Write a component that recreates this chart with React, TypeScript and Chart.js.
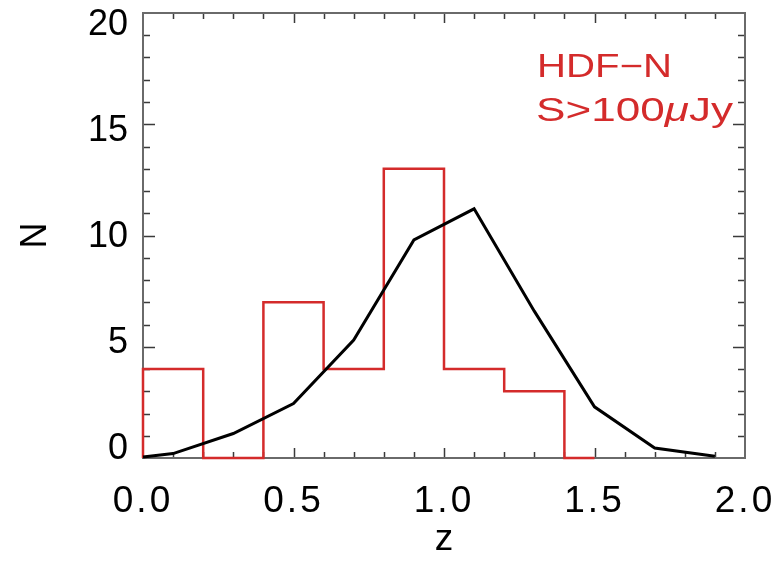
import React, { useEffect, useRef } from "react";
import { Chart, registerables } from "chart.js";

Chart.register(...registerables);

// Histogram (HDF-N, S>100 uJy): bin edges and counts (step line)
const histEdges = [0, 0, 0.2, 0.4, 0.6, 0.8, 1.0, 1.2, 1.4, 1.5];
const histCounts = [0, 4, 0, 7, 4, 13, 4, 3, 0, 0];

// Model curve
const modelZ = [0, 0.1, 0.3, 0.5, 0.7, 0.9, 1.1, 1.3, 1.5, 1.7, 1.9];
const modelN = [0.05, 0.2, 1.1, 2.45, 5.3, 9.8, 11.2, 6.6, 2.3, 0.45, 0.08];

// Axis ticks / labels
const xTickValues = [0, 0.5, 1.0, 1.5, 2.0];
const yTickValues = [0, 5, 10, 15, 20];
const xMinorStep = 0.1;
const yMinorStep = 1;
const xTitle = "z";
const yTitle = "N";
const legendLine1 = "HDF\u2212N";
const legendLine2 = ["S>100", "\u03bc", "Jy"];

const FONT = '"Liberation Sans", Arial, sans-serif';
const RED = "#d42b2b";

const zeroPad = (s: any) => {
  s.paddingTop = 0;
  s.paddingBottom = 0;
  s.paddingLeft = 0;
  s.paddingRight = 0;
};

const idlPlugin = {
  id: "idlFrame",
  afterLayout(chart: any) {
    const xs = chart.scales.x;
    if (xs && !xs.__spaced) {
      const orig = xs.drawLabels;
      xs.drawLabels = function (area: any) {
        const c = this.ctx;
        c.save();
        c.letterSpacing = "3px";
        orig.call(this, area);
        c.restore();
      };
      xs.__spaced = true;
    }
  },
  beforeDatasetsDraw(chart: any) {
    const { ctx, chartArea: a, scales } = chart;
    const xs = scales.x;
    const ys = scales.y;
    ctx.save();
    ctx.strokeStyle = "#3a3a3a";
    ctx.lineWidth = 1.5;
    ctx.beginPath();
    const nx = Math.round((xs.max - xs.min) / xMinorStep);
    for (let i = 1; i < nx; i++) {
      const v = xs.min + i * xMinorStep;
      const px = Math.round(xs.getPixelForValue(v)) + 0.5;
      const len = i % 5 === 0 ? 10 : 6;
      ctx.moveTo(px, a.bottom);
      ctx.lineTo(px, a.bottom - len);
      ctx.moveTo(px, a.top);
      ctx.lineTo(px, a.top + len);
    }
    const ny = Math.round((ys.max - ys.min) / yMinorStep);
    for (let i = 1; i < ny; i++) {
      const v = ys.min + i * yMinorStep;
      const py = Math.round(ys.getPixelForValue(v)) + 0.5;
      const len = i % 5 === 0 ? 12 : 7;
      ctx.moveTo(a.left, py);
      ctx.lineTo(a.left + len, py);
      ctx.moveTo(a.right, py);
      ctx.lineTo(a.right - len, py);
    }
    ctx.stroke();
    ctx.strokeStyle = "#6a6a6a";
    ctx.lineWidth = 2;
    ctx.strokeRect(a.left, a.top, a.right - a.left, a.bottom - a.top);
    ctx.restore();
  },
  afterDraw(chart: any) {
    const { ctx } = chart;
    ctx.save();
    ctx.fillStyle = RED;
    ctx.textBaseline = "alphabetic";
    const f = "33px " + FONT;
    ctx.font = f;
    const w1 = ctx.measureText(legendLine1).width;
    ctx.save();
    ctx.translate(537, 77);
    ctx.scale(135 / w1, 1);
    ctx.fillText(legendLine1, 0, 0);
    ctx.restore();
    const fonts = [f, "italic 33px " + FONT, f];
    let total = 0;
    const widths = legendLine2.map((s, i) => {
      ctx.font = fonts[i];
      const w = ctx.measureText(s).width;
      total += w;
      return w;
    });
    ctx.save();
    ctx.translate(536, 121);
    ctx.scale(197 / total, 1);
    let xx = 0;
    legendLine2.forEach((s, i) => {
      ctx.font = fonts[i];
      ctx.fillText(s, xx, 0);
      xx += widths[i];
    });
    ctx.restore();
    ctx.restore();
  },
};

export default function App() {
  const ref = useRef<HTMLCanvasElement>(null);
  useEffect(() => {
    const canvas = ref.current!;
    const chart = new Chart(canvas, {
      type: "line",
      data: {
        datasets: [
          {
            label: "model",
            data: modelZ.map((z, i) => ({ x: z, y: modelN[i] })),
            borderColor: "#000000",
            borderWidth: 3,
            pointRadius: 0,
            tension: 0,
            order: 0,
            clip: false as any,
            xAxisID: "x",
            yAxisID: "y",
          },
          {
            label: "HDF-N",
            data: histEdges.map((z, i) => ({ x: z, y: histCounts[i] })),
            borderColor: RED,
            borderWidth: 2.5,
            pointRadius: 0,
            stepped: true,
            order: 1,
            clip: false as any,
            xAxisID: "x",
            yAxisID: "y",
          },
        ],
      },
      options: {
        responsive: false,
        animation: false,
        devicePixelRatio: 1,
        layout: { padding: { top: 13, right: 38, left: 0, bottom: 0 } },
        plugins: { legend: { display: false }, tooltip: { enabled: false } },
        scales: {
          x: {
            type: "linear",
            position: "bottom",
            min: 0,
            max: 2,
            grid: { display: false, drawTicks: false },
            border: { display: false },
            afterBuildTicks: (s: any) => {
              s.ticks = xTickValues.map((v) => ({ value: v }));
            },
            afterFit: (s: any) => {
              s.height = 105;
              zeroPad(s);
            },
            ticks: {
              color: "#000",
              font: { family: FONT, size: 37 },
              padding: 22,
              maxRotation: 0,
              autoSkip: false,
              callback: (v: any) => Number(v).toFixed(1),
            },
            title: {
              display: true,
              text: xTitle,
              color: "#000",
              font: { family: FONT, size: 37, lineHeight: 1 },
              padding: { top: 0, bottom: 5 },
            },
          },
          y: {
            type: "linear",
            display: false,
            min: 0,
            max: 20,
          },
          yl: {
            type: "linear",
            position: "left",
            min: -0.425,
            max: 20.59,
            grid: { display: false, drawTicks: false },
            border: { display: false },
            afterBuildTicks: (s: any) => {
              s.ticks = yTickValues.map((v) => ({ value: v }));
            },
            afterFit: (s: any) => {
              s.width = 143;
              zeroPad(s);
            },
            ticks: {
              color: "#000",
              font: { family: FONT, size: 36 },
              padding: 15,
              autoSkip: false,
              callback: (v: any) => String(v),
            },
            title: {
              display: true,
              text: yTitle,
              color: "#000",
              font: { family: FONT, size: 36, lineHeight: 1 },
              padding: { top: 18, bottom: 0 },
            },
          },
        },
      },
      plugins: [idlPlugin],
    } as any);
    return () => chart.destroy();
  }, []);
  return (
    <div
      style={{
        position: "fixed",
        left: 0,
        top: 0,
        width: 783,
        height: 563,
        background: "#ffffff",
      }}
    >
      <canvas ref={ref} width={783} height={563} style={{ display: "block" }} />
    </div>
  );
}
